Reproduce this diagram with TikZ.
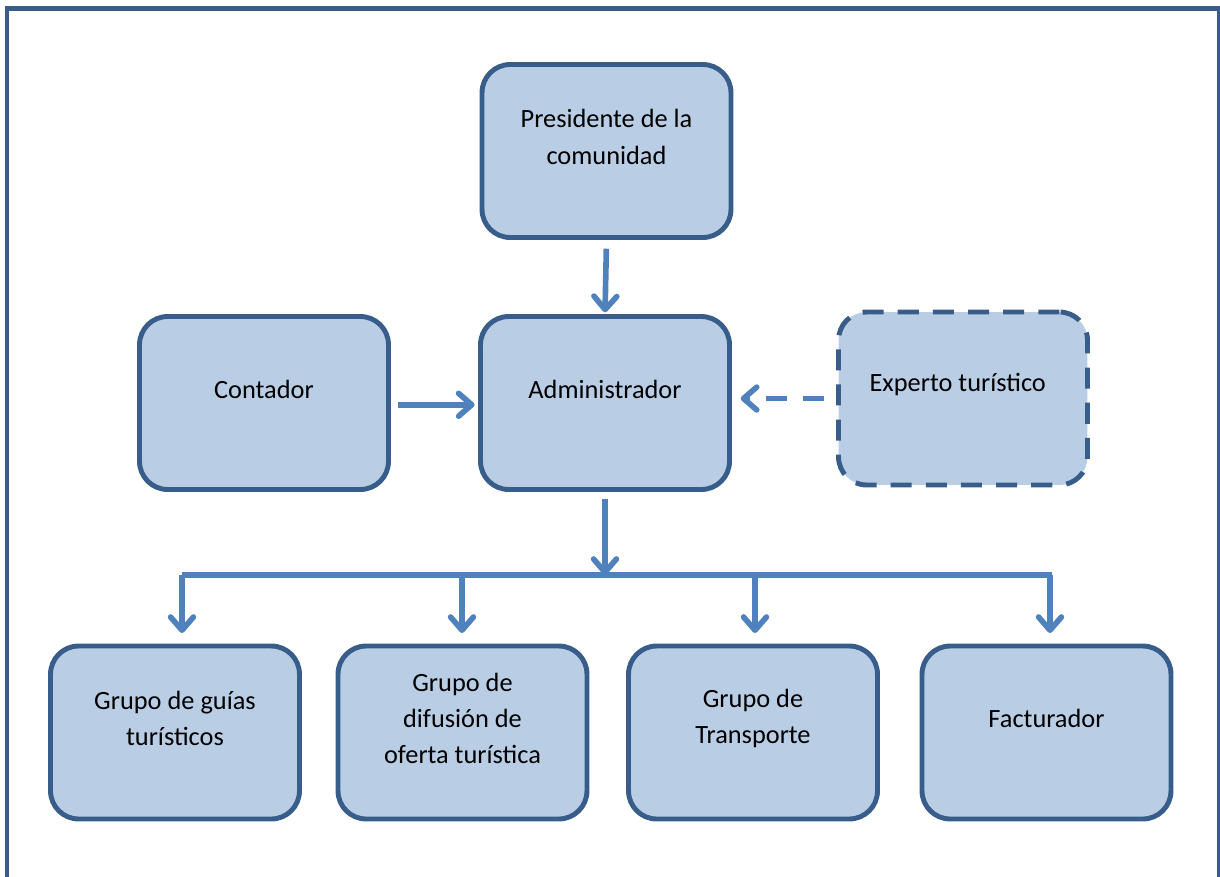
\documentclass[tikz,border=0pt]{standalone}
\usepackage{fontspec}
\setmainfont{Carlito}
\usepackage{xcolor}
\usetikzlibrary{arrows.meta, positioning, calc}
\definecolor{boxfill}{HTML}{B9CDE5}
\definecolor{boxline}{HTML}{385D8A}
\definecolor{arrowblue}{HTML}{4F81BD}

\begin{document}
\begin{tikzpicture}[x=0.02cm, y=-0.02cm,
    unit/.style={rectangle, rounded corners=16pt, draw=boxline, fill=boxfill, line width=2.8pt, minimum width=4.98cm, minimum height=3.46cm, inner sep=0pt},
    advisor/.style={unit, dash pattern=on 12pt off 8pt},
    label text/.style={align=center, font=\fontsize{15}{20.6}\selectfont, yshift=8pt},
    link/.style={draw=arrowblue, line width=3.2pt},
    arrow/.style={link, -{Straight Barb[length=7.5pt,width=13pt,line cap=round,line join=round]}}
]
\clip (0,0) rectangle (1220,876);
\draw[boxline, line width=2.8pt] (7,8.5) rectangle (1219.5,900);

\node[unit] (pres) at (606.5,151) {};
\node[unit] (admin) at (605,403) {};
\node[unit] (cont) at (264,403) {};
\node[advisor] (exp) at (963,398.5) {};
\node[unit] (g1) at (175,732.5) {};
\node[unit] (g2) at (462.5,732.5) {};
\node[unit] (g3) at (753,732.5) {};
\node[unit] (g4) at (1046.5,732.5) {};

\node[label text] (pres-t) at (pres.center) {Presidente de la\\comunidad};
\node[label text] (admin-t) at (admin.center) {Administrador};
\node[label text] (cont-t) at (cont.center) {Contador};
\node[label text, xshift=-3pt] (exp-t) at (exp.center) {Experto turístico};
\node[label text] (g1-t) at (g1.center) {Grupo de guías\\turísticos};
\node[label text] (g2-t) at (g2.center) {Grupo de\\difusión de\\oferta turística};
\node[label text] (g3-t) at (g3.center) {Grupo de\\Transporte};
\node[label text] (g4-t) at (g4.center) {Facturador};

\coordinate (barL) at (182,575);
\coordinate (barR) at (1052,575);

\draw[arrow, shorten <=5pt, shorten >=1pt] (pres.south) -- (admin.north);
\draw[arrow, shorten <=4pt, shorten >=2pt] ([yshift=-1pt]cont.east) -- ([yshift=-1pt]admin.east -| admin.west);
\draw[arrow, dash pattern=on 12pt off 9pt, shorten <=7pt, shorten >=5pt] (exp.west) -- (exp.west -| admin.east);
\draw[arrow, shorten <=4pt] (admin.south) -- (admin.south |- barL);
\draw[link] (barL) -- (barR);
\foreach \g/\x in {g1/182, g2/462, g3/755, g4/1050}
    \draw[arrow, shorten >=6pt] (\x,575) -- (\g.north -| \x,0);
\end{tikzpicture}
\end{document}
